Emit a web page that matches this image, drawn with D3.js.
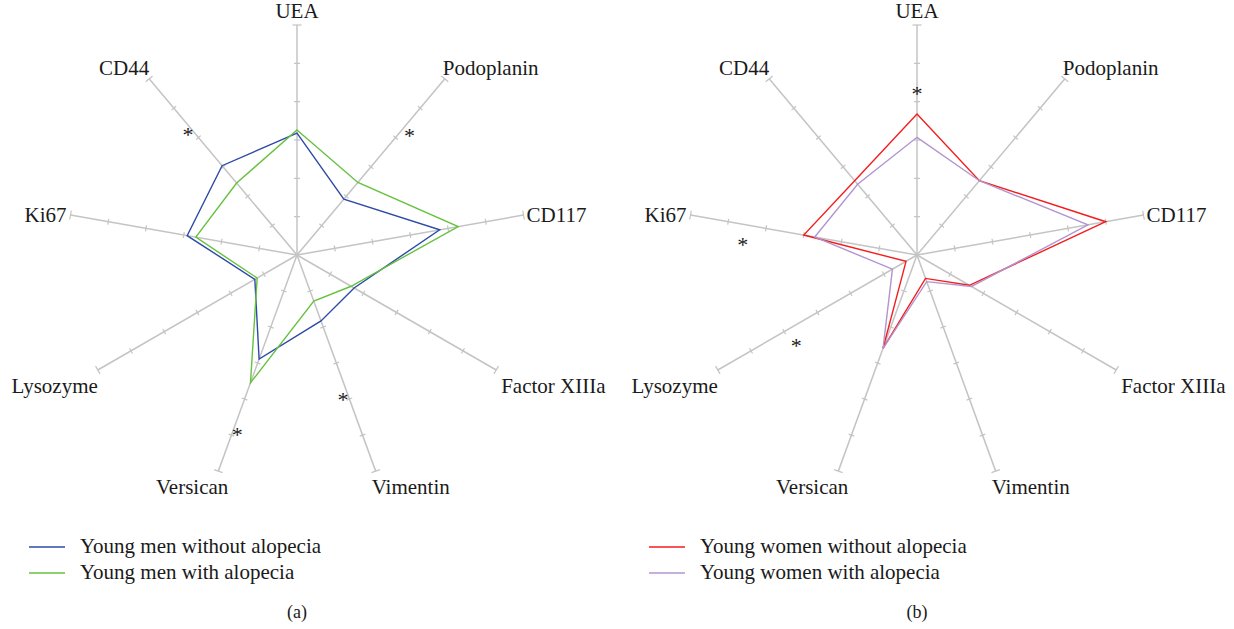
<!DOCTYPE html>
<html>
<head>
<meta charset="utf-8">
<script src="https://cdn.jsdelivr.net/npm/d3@7"></script>
<style>
  body { margin: 0; background: #fff; }
  text { font-family: "Liberation Serif", "DejaVu Serif", serif; fill: #1a1a1a; }
</style>
</head>
<body>
<div id="chart"></div>
<script>
// Data
const markers = ['UEA', 'Podoplanin', 'CD117', 'Factor XIIIa', 'Vimentin', 'Versican', 'Lysozyme', 'Ki67', 'CD44']
const scaleTicks = [1, 2, 3, 4, 5, 6]

const menWithout = [3.18, 1.90, 3.78, 1.72, 1.83, 2.89, 1.27, 2.91, 3.04]
const menWith = [3.26, 2.47, 4.27, 1.63, 1.28, 3.55, 1.20, 2.68, 2.45]
const womenWithout = [3.68, 2.53, 5.00, 1.58, 0.65, 2.59, 0.33, 3.00, 2.53]
const womenWith = [3.07, 2.53, 4.53, 1.64, 0.74, 2.59, 0.74, 2.71, 2.41]

// significant differences (marker, position on the scale)
const menStars = [['CD44', 4.3], ['Podoplanin', 4.35], ['Vimentin', 3.86], ['Versican', 4.85]]
const womenStars = [['UEA', 4.31], ['Ki67', 4.54], ['Lysozyme', 3.86]]

const panels = [
  {
    cx: 297, label: '(a)', stars: menStars,
    series: [
      { name: 'Young men without alopecia', values: menWithout, color: '#2d4ba6' },
      { name: 'Young men with alopecia', values: menWith, color: '#66c13f' },
    ],
  },
  {
    cx: 917, label: '(b)', stars: womenStars,
    series: [
      { name: 'Young women without alopecia', values: womenWithout, color: '#f41d1d' },
      { name: 'Young women with alopecia', values: womenWith, color: '#b294cf' },
    ],
  },
]

// Dimensions
const dimensions = { width: 1234, height: 629, cy: 255, radius: 230 }

const svg = d3.select('#chart')
  .append('svg')
  .attr('width', dimensions.width)
  .attr('height', dimensions.height)

// Scales
const rScale = d3.scaleLinear()
  .domain([0, 6])
  .range([0, dimensions.radius])

const angleScale = d3.scalePoint()
  .domain(markers)
  .range([0, 2 * Math.PI * (markers.length - 1) / markers.length])

const point = (m, v) => {
  const a = angleScale(m)
  return [Math.sin(a) * rScale(v), -Math.cos(a) * rScale(v)]
}

// small sideways nudges of the asterisks (px, clockwise positive)
const starNudge = { CD44: -4, Podoplanin: 7, Vimentin: 5, Versican: -4, UEA: 0, Ki67: -16, Lysozyme: -15 }

panels.forEach(panel => {
  const ctr = svg.append('g')
    .attr('transform', `translate(${panel.cx}, ${dimensions.cy})`)

  // Axes
  const axes = ctr.append('g')
    .selectAll('g')
    .data(markers)
    .join('g')
    .attr('transform', d => `rotate(${angleScale(d) * 180 / Math.PI})`)

  axes.append('line')
    .attr('x1', 0).attr('y1', 0)
    .attr('x2', 0).attr('y2', -rScale(6))
    .attr('stroke', '#c4c4c4')
    .attr('stroke-width', 1.5)

  axes.selectAll('.tick')
    .data(scaleTicks)
    .join('line')
    .attr('class', 'tick')
    .attr('x1', t => t === 6 ? -4.5 : -3)
    .attr('x2', t => t === 6 ? 4.5 : 3)
    .attr('y1', t => -rScale(t))
    .attr('y2', t => -rScale(t))
    .attr('stroke', '#c4c4c4')
    .attr('stroke-width', 1.2)

  // Axis labels
  ctr.append('g')
    .selectAll('text')
    .data(markers)
    .join('text')
    .attr('font-size', 21)
    .each(function (d) {
      const a = angleScale(d)
      const s = Math.sin(a), c = Math.cos(a)
      const [x, y] = point(d, 6)
      const anchor = s > 0.2 ? 'start' : s < -0.2 ? 'end' : 'middle'
      let dx = s > 0.2 ? 3 : s < -0.2 ? -4 : 0
      let dy = 7
      if (c > 0.9) dy = -7
      else if (c > 0.5) dy = -4
      else if (c < -0.3) dy = 23
      if (Math.abs(s) < 0.5 && c < -0.3) dx = s > 0 ? -4 : 10
      else if (c < -0.3) dx = s > 0 ? 5 : 0
      if (c > 0.5 && c < 0.9) dx = s > 0 ? -2 : 0
      d3.select(this)
        .attr('x', x + dx)
        .attr('y', y + dy)
        .attr('text-anchor', anchor)
        .text(d)
    })

  // Series
  const radarLine = d3.lineRadial()
    .angle((v, i) => angleScale(markers[i]))
    .radius(v => rScale(v))
    .curve(d3.curveLinearClosed)

  ctr.append('g')
    .selectAll('path')
    .data(panel.series)
    .join('path')
    .attr('d', d => radarLine(d.values))
    .attr('fill', 'none')
    .attr('stroke', d => d.color)
    .attr('stroke-width', 1.4)
    .attr('stroke-linejoin', 'miter')

  // Asterisks
  ctr.append('g')
    .selectAll('text')
    .data(panel.stars)
    .join('text')
    .attr('font-size', 22)
    .attr('text-anchor', 'middle')
    .attr('transform', ([m, v]) => {
      const a = angleScale(m)
      const [x, y] = point(m, v)
      const n = starNudge[m]
      return `translate(${x + Math.cos(a) * n}, ${y + Math.sin(a) * n + 11})`
    })
    .text('*')

  // Legend
  const legend = svg.append('g')
    .attr('transform', `translate(${panel.cx - 268}, 547)`)
    .selectAll('g')
    .data(panel.series)
    .join('g')
    .attr('transform', (d, i) => `translate(0, ${i * 26})`)

  legend.append('line')
    .attr('x1', 0).attr('x2', 36)
    .attr('stroke', d => d.color)
    .attr('stroke-width', 1.4)

  legend.append('text')
    .attr('x', 51)
    .attr('y', 6)
    .attr('font-size', 21)
    .text(d => d.name)

  svg.append('text')
    .attr('x', panel.cx)
    .attr('y', 618)
    .attr('text-anchor', 'middle')
    .attr('font-size', 18)
    .text(panel.label)
})
</script>
</body>
</html>
